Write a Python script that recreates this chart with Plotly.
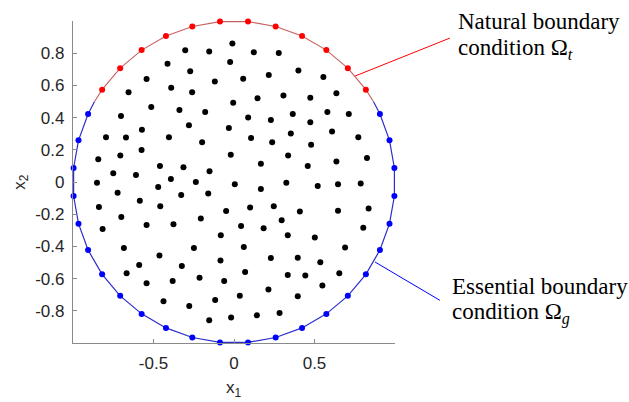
import numpy as np
import plotly.graph_objects as go

# ---------------- data ----------------
interior_x = [-0.010, -0.303, -0.154, 0.123, 0.278, -0.413, -0.024, 0.400, -0.272, -0.543,
              -0.119, 0.057, 0.216, 0.555, -0.655, -0.390, -0.260, -0.005, 0.146, 0.307,
              0.474, 0.636, -0.514, -0.339, -0.179, -0.702, 0.088, 0.229, 0.365, 0.474,
              0.580, 0.713, -0.280, -0.032, -0.572, -0.795, -0.671, -0.404, 0.106, 0.237,
              0.353, 0.479, 0.609, 0.772, -0.198, -0.574, -0.706, -0.020, 0.336, -0.843,
              0.167, -0.460, -0.314, 0.458, 0.636, 0.826, -0.750, -0.609, -0.152, -0.392,
              -0.851, -0.237, 0.005, 0.325, 0.520, 0.646, 0.787, 0.167, -0.471, -0.723,
              -0.328, -0.160, -0.585, -0.458, -0.839, -0.049, 0.100, 0.247, 0.409, 0.646,
              0.836, -0.700, -0.206, -0.543, -0.376, 0.044, 0.184, -0.816, 0.296, 0.803,
              -0.082, 0.334, 0.502, 0.690, -0.684, -0.249, 0.061, -0.463, 0.229, 0.396,
              0.536, -0.084, -0.324, -0.589, 0.069, -0.667, -0.381, -0.214, -0.061, 0.334,
              0.443, 0.654, -0.543, 0.214, 0.396, 0.549, 0.036, -0.117, -0.438, -0.278,
              0.283, 0.142, -0.018, -0.154]
interior_y = [0.860, 0.818, 0.810, 0.806, 0.801, 0.735, 0.745, 0.692, 0.688, 0.640,
              0.625, 0.642, 0.665, 0.652, 0.557, 0.586, 0.557, 0.493, 0.520, 0.537,
              0.524, 0.551, 0.466, 0.447, 0.435, 0.410, 0.400, 0.385, 0.422, 0.371,
              0.435, 0.422, 0.352, 0.335, 0.325, 0.278, 0.276, 0.278, 0.273, 0.247,
              0.301, 0.232, 0.313, 0.278, 0.247, 0.199, 0.164, 0.170, 0.164, 0.141,
              0.114, 0.099, 0.091, 0.099, 0.127, 0.149, 0.054, 0.043, 0.066, 0.019,
              -0.004, 0.000, -0.014, -0.004, -0.025, -0.014, -0.010, -0.043, -0.031, -0.066,
              -0.081, -0.072, -0.117, -0.151, -0.155, -0.180, -0.159, -0.151, -0.184, -0.178,
              -0.165, -0.217, -0.227, -0.267, -0.263, -0.273, -0.288, -0.292, -0.238, -0.284,
              -0.331, -0.331, -0.345, -0.407, -0.410, -0.410, -0.404, -0.457, -0.472, -0.470,
              -0.498, -0.488, -0.522, -0.516, -0.559, -0.567, -0.615, -0.594, -0.615, -0.578,
              -0.581, -0.567, -0.629, -0.668, -0.710, -0.643, -0.706, -0.733, -0.741, -0.770,
              -0.814, -0.828, -0.842, -0.859]

# boundary nodes on the unit circle (angles in degrees)
natural_deg = [35, 45, 55, 65, 75, 85, 95, 105, 115, 125, 135, 145]
essential_deg = [155, 165, 175, 185, 195, 205, 215, 225, 235, 245, 255, 265,
                 275, 285, 295, 305, 315, 325, 335, 345, 355, 5, 15, 25]
natural_line_deg = [30, 35, 45, 55, 65, 75, 85, 95, 105, 115, 125, 135, 145, 150]
essential_line_deg = [150, 155, 165, 175, 185, 195, 205, 215, 225, 235, 245, 255, 265,
                      275, 285, 295, 305, 315, 325, 335, 345, 355, 365, 375, 385, 390]

# leader lines (data coords)
natural_leader_x = [0.752, 1.341]
natural_leader_y = [0.658, 0.894]
essential_leader_x = [0.876, 1.279]
essential_leader_y = [-0.497, -0.735]

# label texts and their anchor positions (data coords, left edge / line middle)
label_lines = ["Natural boundary", "condition Ω<sub><i>t</i></sub>",
               "Essential boundary", "condition Ω<sub><i>g</i></sub>"]
label_x = [1.378, 1.378, 1.341, 1.341]
label_y = [0.995, 0.825, -0.652, -0.818]

x_tickvals = [-0.5, 0, 0.5]
x_ticktext = ["-0.5", "0", "0.5"]
y_tickvals = [-0.8, -0.6, -0.4, -0.2, 0, 0.2, 0.4, 0.6, 0.8]
y_ticktext = ["-0.8", "-0.6", "-0.4", "-0.2", "0", "0.2", "0.4", "0.6", "0.8"]

XR = [-1, 1]
YR = [-1, 1]


def circ(deg):
    a = np.radians(np.array(deg, dtype=float))
    return np.cos(a), np.sin(a)


def dom(v, r):
    return (v - r[0]) / (r[1] - r[0])


fig = go.Figure()

lx, ly = circ(essential_line_deg)
fig.add_trace(go.Scatter(x=lx, y=ly, mode="lines",
                         line=dict(color="rgb(45,45,205)", width=1.2),
                         hoverinfo="skip", showlegend=False))
lx, ly = circ(natural_line_deg)
fig.add_trace(go.Scatter(x=lx, y=ly, mode="lines",
                         line=dict(color="rgb(200,95,95)", width=1.1),
                         hoverinfo="skip", showlegend=False))

fig.add_trace(go.Scatter(x=interior_x, y=interior_y, mode="markers",
                         marker=dict(color="black", size=6),
                         cliponaxis=False, showlegend=False))
bx, by = circ(essential_deg)
fig.add_trace(go.Scatter(x=bx, y=by, mode="markers",
                         marker=dict(color="rgb(0,0,255)", size=6),
                         cliponaxis=False, showlegend=False))
bx, by = circ(natural_deg)
fig.add_trace(go.Scatter(x=bx, y=by, mode="markers",
                         marker=dict(color="rgb(255,0,0)", size=6),
                         cliponaxis=False, showlegend=False))

for lxs, lys, col in [(natural_leader_x, natural_leader_y, "red"),
                      (essential_leader_x, essential_leader_y, "blue")]:
    fig.add_shape(type="line", xref="x domain", yref="y domain",
                  x0=dom(lxs[0], XR), y0=dom(lys[0], YR),
                  x1=dom(lxs[1], XR), y1=dom(lys[1], YR),
                  line=dict(color=col, width=1))

serif = dict(family="Liberation Serif, Times New Roman, serif", size=23, color="black")
for tx, ty, tt in zip(label_x, label_y, label_lines):
    fig.add_annotation(x=dom(tx, XR), y=dom(ty, YR), xref="x domain", yref="y domain",
                       text=tt, showarrow=False,
                       xanchor="left", yanchor="middle", font=serif)

sans = dict(family="Liberation Sans, Arial, sans-serif", size=17, color="#262626")
fig.add_annotation(x=0.5, y=-0.143, xref="paper", yref="paper", text="x<sub>1</sub>",
                   showarrow=False, xanchor="center", yanchor="middle", font=sans)
fig.add_annotation(x=-0.162, y=0.5, xref="paper", yref="paper", text="x<sub>2</sub>",
                   showarrow=False, xanchor="center", yanchor="middle", font=sans,
                   textangle=-90)

axis_common = dict(showgrid=False, zeroline=False, showline=True, linecolor="#8a8a8a",
                   linewidth=1.3, ticks="inside", ticklen=4, tickcolor="#8a8a8a",
                   tickwidth=1, tickfont=sans, mirror=False)
fig.update_xaxes(range=XR, tickvals=x_tickvals, ticktext=x_ticktext,
                 ticklabelstandoff=4, **axis_common)
fig.update_yaxes(range=YR, tickvals=y_tickvals, ticktext=y_ticktext,
                 ticklabelstandoff=4, **axis_common)

fig.update_layout(width=629, height=402, margin=dict(l=73, r=234, t=21, b=59),
                  plot_bgcolor="white", paper_bgcolor="white", showlegend=False)

fig.write_html("out.html")
